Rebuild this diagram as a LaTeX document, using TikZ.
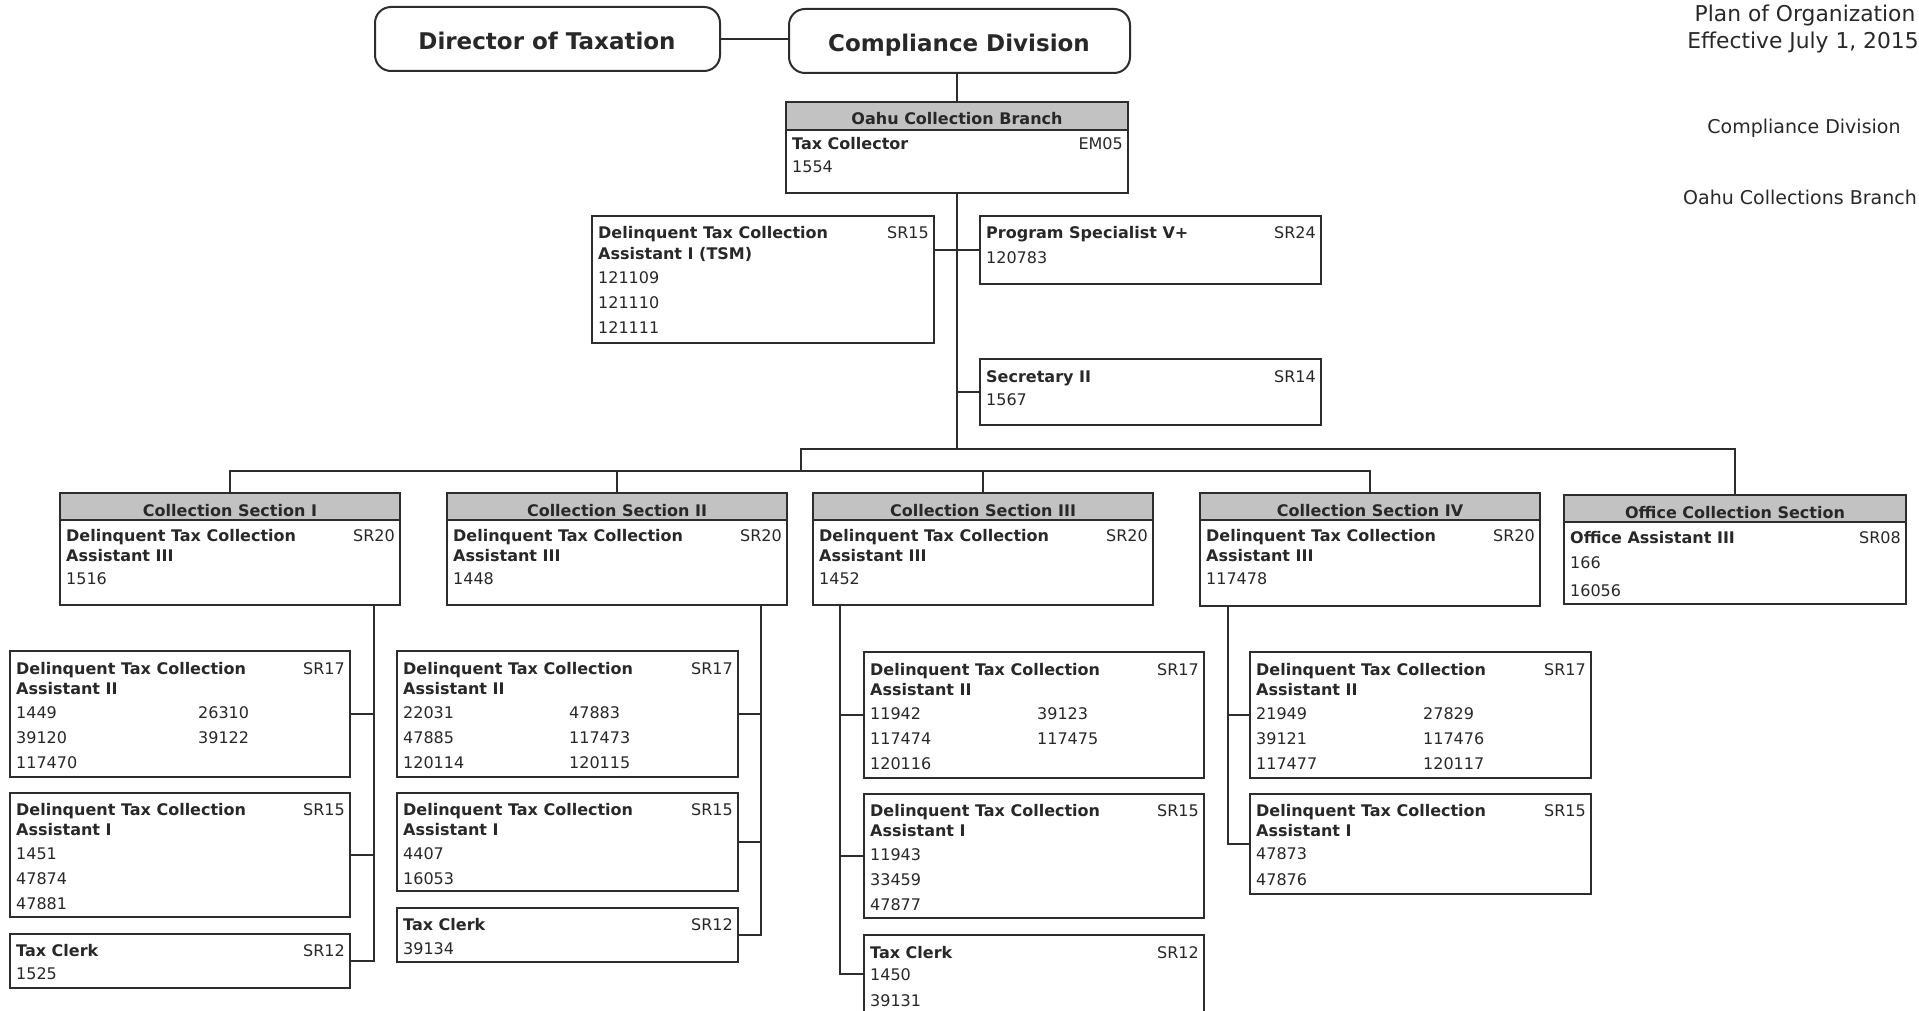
\documentclass[tikz,border=0pt]{standalone}
\usepackage{fontspec}
\setmainfont{DejaVu Sans}
\usetikzlibrary{calc}
\definecolor{lc}{RGB}{45,45,45}
\definecolor{tc}{RGB}{40,40,40}
\definecolor{hdr}{RGB}{194,194,194}
\tikzset{
  box/.style={draw=lc, line width=2pt, anchor=north west, inner sep=0pt, outer sep=0pt},
  topbox/.style={box, rounded corners=16pt},
  toptxt/.style={anchor=base, inner sep=0pt, text=tc, font=\bfseries\fontsize{23}{28}\selectfont},
  ttl/.style={anchor=base west, inner sep=0pt, text=tc, font=\bfseries\fontsize{16}{20}\selectfont},
  num/.style={anchor=base west, inner sep=0pt, text=tc, font=\fontsize{16}{20}\selectfont},
  grd/.style={anchor=base east, inner sep=0pt, text=tc, font=\fontsize{16}{20}\selectfont},
  hdt/.style={anchor=base, inner sep=0pt, text=tc, font=\bfseries\fontsize{16}{20}\selectfont},
  rtxt/.style={anchor=base, inner sep=0pt, text=tc},
  conn/.style={draw=lc, line width=2pt},
}
\newcommand\jbtxt[5]{\node[#1] (#2-#3-#4) at ([shift={(#3,#4)}]#2.north west) {#5};}
\newcommand\jbgrade[3]{\node[grd] (#1-g) at ([shift={(-5,#2)}]#1.north east) {#3};}
\newcommand\jbhead[3]{%
  \fill[hdr] ([shift={(1,1)}]#1.north west) rectangle ([shift={(-1,#2)}]#1.north east);
  \draw[conn] ([shift={(0,#2)}]#1.north west) -- ([shift={(0,#2)}]#1.north east);
  \node[hdt] (#1-h) at ([shift={(0,23)}]#1.north) {#3};}
\begin{document}
\begin{tikzpicture}[x=1pt,y=-1pt]
\clip (0,0) rectangle (1919,1011);
\fill[white] (0,0) rectangle (1919,1011);

% ---- top
\node[topbox, minimum width=345, minimum height=64] (dir) at (375,7) {};
\node[toptxt] (dir-t) at (547,50) {Director of Taxation};
\node[topbox, minimum width=341, minimum height=64] (comp) at (789,9) {};
\node[toptxt] (comp-t) at (959,52) {Compliance Division};

\node[rtxt, font=\fontsize{21.8}{25}\selectfont] (plan) at (1805,22) {Plan of Organization};
\node[rtxt, font=\fontsize{21.8}{25}\selectfont] (eff) at (1803,49) {Effective July 1, 2015};
\node[rtxt, font=\fontsize{19}{23}\selectfont] (rcd) at (1804,134) {Compliance Division};
\node[rtxt, font=\fontsize{19}{23}\selectfont, anchor=base east] (rob) at (1917,205) {Oahu Collections Branch};

% ---- branch
\node[box, minimum width=342, minimum height=91] (oahu) at (786,102) {};
\jbhead{oahu}{28}{Oahu Collection Branch}
\jbtxt{ttl}{oahu}{6}{48}{Tax Collector}
\jbgrade{oahu}{48}{EM05}
\jbtxt{num}{oahu}{6}{71}{1554}

\node[box, minimum width=342, minimum height=127] (tsm) at (592,216) {};
\jbtxt{ttl}{tsm}{6}{23}{Delinquent Tax Collection}
\jbtxt{ttl}{tsm}{6}{43}{Assistant I (TSM)}
\jbgrade{tsm}{23}{SR15}
\jbtxt{num}{tsm}{6}{67}{121109}
\jbtxt{num}{tsm}{6}{92}{121110}
\jbtxt{num}{tsm}{6}{117}{121111}

\node[box, minimum width=341, minimum height=68] (ps) at (980,216) {};
\jbtxt{ttl}{ps}{6}{23}{Program Specialist V+}
\jbgrade{ps}{23}{SR24}
\jbtxt{num}{ps}{6}{47}{120783}

\node[box, minimum width=341, minimum height=66] (sec) at (980,359) {};
\jbtxt{ttl}{sec}{6}{23}{Secretary II}
\jbgrade{sec}{23}{SR14}
\jbtxt{num}{sec}{6}{46}{1567}

% ---- sections
\node[box, minimum width=340, minimum height=112] (cs1) at (60,493) {};
\jbhead{cs1}{27}{Collection Section I}
\jbtxt{ttl}{cs1}{6}{48}{Delinquent Tax Collection}
\jbtxt{ttl}{cs1}{6}{68}{Assistant III}
\jbgrade{cs1}{48}{SR20}
\jbtxt{num}{cs1}{6}{91}{1516}

\node[box, minimum width=340, minimum height=112] (cs2) at (447,493) {};
\jbhead{cs2}{27}{Collection Section II}
\jbtxt{ttl}{cs2}{6}{48}{Delinquent Tax Collection}
\jbtxt{ttl}{cs2}{6}{68}{Assistant III}
\jbgrade{cs2}{48}{SR20}
\jbtxt{num}{cs2}{6}{91}{1448}

\node[box, minimum width=340, minimum height=112] (cs3) at (813,493) {};
\jbhead{cs3}{27}{Collection Section III}
\jbtxt{ttl}{cs3}{6}{48}{Delinquent Tax Collection}
\jbtxt{ttl}{cs3}{6}{68}{Assistant III}
\jbgrade{cs3}{48}{SR20}
\jbtxt{num}{cs3}{6}{91}{1452}

\node[box, minimum width=340, minimum height=113] (cs4) at (1200,493) {};
\jbhead{cs4}{27}{Collection Section IV}
\jbtxt{ttl}{cs4}{6}{48}{Delinquent Tax Collection}
\jbtxt{ttl}{cs4}{6}{68}{Assistant III}
\jbgrade{cs4}{48}{SR20}
\jbtxt{num}{cs4}{6}{91}{117478}

\node[box, minimum width=342, minimum height=109] (off) at (1564,495) {};
\jbhead{off}{27}{Office Collection Section}
\jbtxt{ttl}{off}{6}{48}{Office Assistant III}
\jbgrade{off}{48}{SR08}
\jbtxt{num}{off}{6}{73}{166}
\jbtxt{num}{off}{6}{101}{16056}

% ---- section I units
\node[box, minimum width=340, minimum height=126] (s1a) at (10,651) {};
\jbtxt{ttl}{s1a}{6}{23}{Delinquent Tax Collection}
\jbtxt{ttl}{s1a}{6}{43}{Assistant II}
\jbgrade{s1a}{23}{SR17}
\jbtxt{num}{s1a}{6}{67}{1449}
\jbtxt{num}{s1a}{188}{67}{26310}
\jbtxt{num}{s1a}{6}{92}{39120}
\jbtxt{num}{s1a}{188}{92}{39122}
\jbtxt{num}{s1a}{6}{117}{117470}

\node[box, minimum width=340, minimum height=124] (s1b) at (10,793) {};
\jbtxt{ttl}{s1b}{6}{22}{Delinquent Tax Collection}
\jbtxt{ttl}{s1b}{6}{42}{Assistant I}
\jbgrade{s1b}{22}{SR15}
\jbtxt{num}{s1b}{6}{66}{1451}
\jbtxt{num}{s1b}{6}{91}{47874}
\jbtxt{num}{s1b}{6}{116}{47881}

\node[box, minimum width=340, minimum height=54] (s1c) at (10,934) {};
\jbtxt{ttl}{s1c}{6}{22}{Tax Clerk}
\jbgrade{s1c}{22}{SR12}
\jbtxt{num}{s1c}{6}{45}{1525}

% ---- section II units
\node[box, minimum width=341, minimum height=126] (s2a) at (397,651) {};
\jbtxt{ttl}{s2a}{6}{23}{Delinquent Tax Collection}
\jbtxt{ttl}{s2a}{6}{43}{Assistant II}
\jbgrade{s2a}{23}{SR17}
\jbtxt{num}{s2a}{6}{67}{22031}
\jbtxt{num}{s2a}{172}{67}{47883}
\jbtxt{num}{s2a}{6}{92}{47885}
\jbtxt{num}{s2a}{172}{92}{117473}
\jbtxt{num}{s2a}{6}{117}{120114}
\jbtxt{num}{s2a}{172}{117}{120115}

\node[box, minimum width=341, minimum height=98] (s2b) at (397,793) {};
\jbtxt{ttl}{s2b}{6}{22}{Delinquent Tax Collection}
\jbtxt{ttl}{s2b}{6}{42}{Assistant I}
\jbgrade{s2b}{22}{SR15}
\jbtxt{num}{s2b}{6}{66}{4407}
\jbtxt{num}{s2b}{6}{91}{16053}

\node[box, minimum width=341, minimum height=54] (s2c) at (397,908) {};
\jbtxt{ttl}{s2c}{6}{22}{Tax Clerk}
\jbgrade{s2c}{22}{SR12}
\jbtxt{num}{s2c}{6}{46}{39134}

% ---- section III units
\node[box, minimum width=340, minimum height=126] (s3a) at (864,652) {};
\jbtxt{ttl}{s3a}{6}{23}{Delinquent Tax Collection}
\jbtxt{ttl}{s3a}{6}{43}{Assistant II}
\jbgrade{s3a}{23}{SR17}
\jbtxt{num}{s3a}{6}{67}{11942}
\jbtxt{num}{s3a}{173}{67}{39123}
\jbtxt{num}{s3a}{6}{92}{117474}
\jbtxt{num}{s3a}{173}{92}{117475}
\jbtxt{num}{s3a}{6}{117}{120116}

\node[box, minimum width=340, minimum height=124] (s3b) at (864,794) {};
\jbtxt{ttl}{s3b}{6}{22}{Delinquent Tax Collection}
\jbtxt{ttl}{s3b}{6}{42}{Assistant I}
\jbgrade{s3b}{22}{SR15}
\jbtxt{num}{s3b}{6}{66}{11943}
\jbtxt{num}{s3b}{6}{91}{33459}
\jbtxt{num}{s3b}{6}{116}{47877}

\node[box, minimum width=340, minimum height=78] (s3c) at (864,935) {};
\jbtxt{ttl}{s3c}{6}{23}{Tax Clerk}
\jbgrade{s3c}{23}{SR12}
\jbtxt{num}{s3c}{6}{45}{1450}
\jbtxt{num}{s3c}{6}{71}{39131}

% ---- section IV units
\node[box, minimum width=341, minimum height=126] (s4a) at (1250,652) {};
\jbtxt{ttl}{s4a}{6}{23}{Delinquent Tax Collection}
\jbtxt{ttl}{s4a}{6}{43}{Assistant II}
\jbgrade{s4a}{23}{SR17}
\jbtxt{num}{s4a}{6}{67}{21949}
\jbtxt{num}{s4a}{173}{67}{27829}
\jbtxt{num}{s4a}{6}{92}{39121}
\jbtxt{num}{s4a}{173}{92}{117476}
\jbtxt{num}{s4a}{6}{117}{117477}
\jbtxt{num}{s4a}{173}{117}{120117}

\node[box, minimum width=341, minimum height=100] (s4b) at (1250,794) {};
\jbtxt{ttl}{s4b}{6}{22}{Delinquent Tax Collection}
\jbtxt{ttl}{s4b}{6}{42}{Assistant I}
\jbgrade{s4b}{22}{SR15}
\jbtxt{num}{s4b}{6}{65}{47873}
\jbtxt{num}{s4b}{6}{91}{47876}

% ---- connectors
\coordinate (b1) at (957,449);
\coordinate (b1l) at (801,449);
\coordinate (b2) at (0,471);
\draw[conn] (dir.east) -- (dir.east -| comp.west);
\draw[conn] (oahu.north) -- (oahu.north |- comp.south);
\draw[conn] (oahu.south) -- (oahu.south |- b1);
\draw[conn] (ps.west) -- (ps.west -| tsm.east);
\draw[conn] (sec.west) -- (sec.west -| oahu.south);
\draw[conn] (b1l |- b2) -- (b1l) -- (off.north |- b1l) -- (off.north);
\draw[conn] (cs1.north) -- (cs1.north |- b2) -- (cs4.north |- b2) -- (cs4.north);
\draw[conn] (cs2.north) -- (cs2.north |- b2);
\draw[conn] (cs3.north) -- (cs3.north |- b2);

\coordinate (v1) at (374,0);
\coordinate (v2) at (761,0);
\coordinate (v3) at (840,0);
\coordinate (v4) at (1228,0);
\draw[conn] (cs1.south -| v1) |- (s1c.east);
\draw[conn] (s1a.east) -- (s1a.east -| v1);
\draw[conn] (s1b.east) -- (s1b.east -| v1);
\draw[conn] (cs2.south -| v2) |- (s2c.east);
\draw[conn] (s2a.east) -- (s2a.east -| v2);
\draw[conn] (s2b.east) -- (s2b.east -| v2);
\draw[conn] (cs3.south -| v3) |- (s3c.west);
\draw[conn] (s3a.west) -- (s3a.west -| v3);
\draw[conn] (s3b.west) -- (s3b.west -| v3);
\draw[conn] (cs4.south -| v4) |- (s4b.west);
\draw[conn] (s4a.west) -- (s4a.west -| v4);
\end{tikzpicture}
\end{document}
